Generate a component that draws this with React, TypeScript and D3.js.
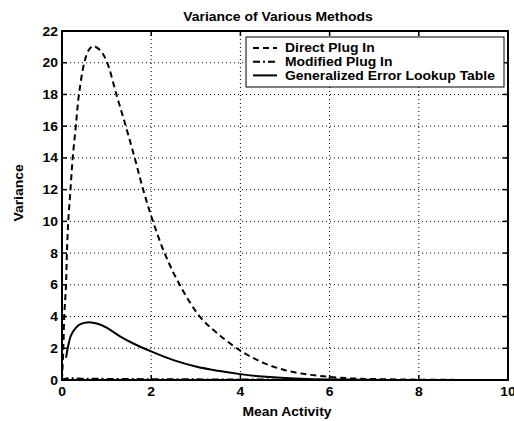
import React from "react";
import * as d3 from "d3";

const xTicks = [0, 2, 4, 6, 8, 10];
const yTicks = [0, 2, 4, 6, 8, 10, 12, 14, 16, 18, 20, 22];

const directX = [0, 0.03, 0.05, 0.09, 0.11, 0.14, 0.19, 0.24, 0.31, 0.38, 0.5, 0.6, 0.7, 0.85, 1.0, 1.22, 1.43, 1.63, 1.82, 2.04, 2.3, 2.64, 3.09, 3.5, 4.0, 4.5, 5.0, 5.5, 6.0, 6.5, 7.0, 8.0, 9.0, 10.0];
const directY = [0, 2, 4, 6, 8, 10, 12, 14, 16, 18, 20, 20.8, 21.05, 20.8, 20.1, 18, 16, 14, 12, 10, 8, 6, 4, 2.9, 1.85, 1.1, 0.62, 0.35, 0.2, 0.1, 0.06, 0.02, 0.005, 0];

const modifiedX = [0, 0.1, 0.5, 1, 2, 3, 4, 5, 6, 8, 10];
const modifiedY = [0, 0.1, 0.08, 0.07, 0.05, 0.04, 0.03, 0.02, 0.01, 0.005, 0];

const lookupX = [0.09, 0.15, 0.2, 0.3, 0.4, 0.5, 0.65, 0.8, 1.0, 1.3, 1.6, 2.0, 2.5, 3.0, 3.5, 4.0, 4.5, 5.0, 5.5, 6.0, 7.0, 8.0, 10.0];
const lookupY = [1.4, 2.3, 2.8, 3.25, 3.5, 3.6, 3.63, 3.55, 3.3, 2.75, 2.3, 1.8, 1.25, 0.85, 0.58, 0.37, 0.22, 0.12, 0.06, 0.03, 0.01, 0, 0];

const legendLabels = ["Direct Plug In", "Modified Plug In", "Generalized Error Lookup Table"];
const dashStyles = ["6,4", "7,3,2,3", "none"];

const W = 514, H = 421;
const L = 62, R = 508, T = 31, B = 380;
const FONT = "'Liberation Sans', Arial, Helvetica, sans-serif";
const SX = 1.16;

function Txt({ x, y, anchor = "start", rotate = 0, children }: { x: number; y: number; anchor?: string; rotate?: number; children: React.ReactNode }) {
  return (
    <text transform={`translate(${x},${y}) rotate(${rotate}) scale(${SX},1)`} textAnchor={anchor as any} fontSize={12} fontWeight="bold">
      {children}
    </text>
  );
}

export default function App() {
  const x = d3.scaleLinear().domain([0, 10]).range([L, R]);
  const y = d3.scaleLinear().domain([0, 22]).range([B, T]);
  const line = d3.line<[number, number]>().x(d => x(d[0])).y(d => y(d[1])).curve(d3.curveCatmullRom.alpha(0.5));
  const series = [
    directX.map((v, i) => [v, directY[i]] as [number, number]),
    modifiedX.map((v, i) => [v, modifiedY[i]] as [number, number]),
    lookupX.map((v, i) => [v, lookupY[i]] as [number, number]),
  ];
  const legX = 246, legY = 37, legW = 258, legH = 50;
  return (
    <svg width={W} height={H} style={{ position: "absolute", left: 0, top: 0, background: "#fff" }} fontFamily={FONT}>
      <rect x={0} y={0} width={W} height={H} fill="#fff" />
      <defs>
        <clipPath id="plot">
          <rect x={L} y={T} width={R - L} height={B - T} />
        </clipPath>
      </defs>
      {xTicks.slice(1, -1).map(t => (
        <line key={"gx" + t} x1={x(t)} x2={x(t)} y1={T} y2={B} stroke="#000" strokeWidth={1} strokeDasharray="1,3" />
      ))}
      {yTicks.slice(1, -1).map(t => (
        <line key={"gy" + t} x1={L} x2={R} y1={y(t)} y2={y(t)} stroke="#000" strokeWidth={1} strokeDasharray="1,3" />
      ))}
      <g clipPath="url(#plot)">
        {series.map((s, i) => (
          <path key={i} d={line(s) || ""} fill="none" stroke="#000" strokeWidth={2}
            strokeDasharray={dashStyles[i] === "none" ? undefined : dashStyles[i]} />
        ))}
      </g>
      {xTicks.map(t => (
        <g key={"tx" + t}>
          <line x1={x(t)} x2={x(t)} y1={B} y2={B - 5} stroke="#000" strokeWidth={1.5} />
          <line x1={x(t)} x2={x(t)} y1={T} y2={T + 5} stroke="#000" strokeWidth={1.5} />
          <Txt x={x(t)} y={396} anchor="middle">{t}</Txt>
        </g>
      ))}
      {yTicks.map(t => (
        <g key={"ty" + t}>
          <line x1={L} x2={L + 5} y1={y(t)} y2={y(t)} stroke="#000" strokeWidth={1.5} />
          <line x1={R} x2={R - 5} y1={y(t)} y2={y(t)} stroke="#000" strokeWidth={1.5} />
          <Txt x={58} y={y(t) + 4.5} anchor="end">{t}</Txt>
        </g>
      ))}
      <rect x={L} y={T} width={R - L} height={B - T} fill="none" stroke="#000" strokeWidth={2} />
      <rect x={legX} y={legY} width={legW} height={legH} fill="#fff" stroke="#000" strokeWidth={1} />
      {legendLabels.map((lab, i) => {
        const ly = legY + 11 + i * 13.7;
        return (
          <g key={lab}>
            <line x1={253} x2={277} y1={ly} y2={ly} stroke="#000" strokeWidth={2}
              strokeDasharray={dashStyles[i] === "none" ? undefined : dashStyles[i]} />
            <Txt x={285} y={ly + 4.3}>{lab}</Txt>
          </g>
        );
      })}
      <Txt x={278} y={21} anchor="middle">Variance of Various Methods</Txt>
      <Txt x={287} y={416} anchor="middle">Mean Activity</Txt>
      <Txt x={23} y={193} anchor="middle" rotate={-90}>Variance</Txt>
    </svg>
  );
}
